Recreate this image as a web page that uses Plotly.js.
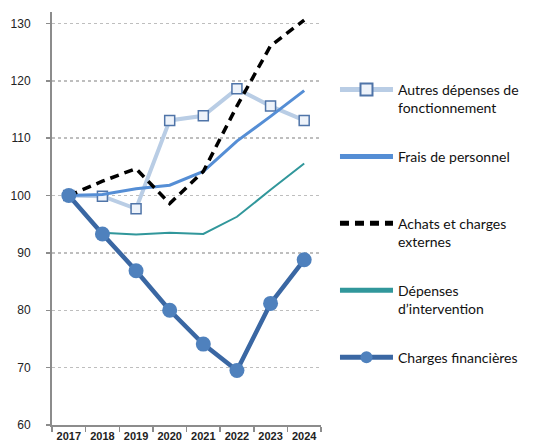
<!DOCTYPE html>
<html>
<head>
<meta charset="utf-8">
<script src="https://cdn.plot.ly/plotly-3.0.1.min.js"></script>
<style>html,body{margin:0;padding:0;background:#fff;}#chart{width:536px;height:448px;}</style>
</head>
<body>
<div id="chart"></div>
<script>
const years = ['2017','2018','2019','2020','2021','2022','2023','2024'];
const autres = [100, 99.9, 97.7, 113.1, 113.9, 118.6, 115.6, 113.1];
const frais = [100, 100.2, 101.2, 101.8, 104.2, 109.5, 113.8, 118.3];
const achats = [100, 102.5, 104.7, 98.6, 104.2, 115.6, 126.1, 130.6];
const depenses = [100, 93.5, 93.2, 93.5, 93.3, 96.3, 101.0, 105.6];
const charges = [100, 93.3, 86.9, 80.0, 74.1, 69.5, 81.2, 88.8];
const names = ['Autres dépenses de<br>fonctionnement', 'Frais de personnel<br>\u00a0', 'Achats et charges<br>externes', 'Dépenses<br>d\u2019intervention', 'Charges financières<br>\u00a0'];

const traces = [
  {x: years, y: autres, name: names[0], mode: 'lines+markers', legendgroup: 'a',
   line: {color: '#B9CDE5', width: 4},
   marker: {symbol: 'square', size: 10, color: '#EEF3FA', line: {color: '#4F74A8', width: 1.5}}},
  {x: years, y: frais, name: names[1], mode: 'lines', legendgroup: 'b',
   line: {color: '#558ED5', width: 3}},
  {x: years, y: achats, name: names[2], mode: 'lines', legendgroup: 'c',
   line: {color: '#000000', width: 3.5, dash: '9px,6px'}},
  {x: years, y: depenses, name: names[3], mode: 'lines', legendgroup: 'd',
   line: {color: '#31979B', width: 2}},
  {x: years, y: charges, name: names[4], mode: 'lines+markers', legendgroup: 'e',
   line: {color: '#3A67A3', width: 4.5},
   marker: {symbol: 'circle', size: 15, color: '#4F81BD'}}
];

const layout = {
  width: 536, height: 448,
  margin: {l: 52, r: 209, t: 12, b: 23},
  paper_bgcolor: '#fff', plot_bgcolor: '#fff',
  font: {family: 'Liberation Sans, Arial, sans-serif', color: '#222'},
  showlegend: true,
  legend: {
    x: 1.052, xanchor: 'left', y: 0.85, yanchor: 'top',
    traceorder: 'grouped', tracegroupgap: 27.5, valign: 'top', itemwidth: 53,
    font: {family: 'Lato, sans-serif', size: 14, color: '#111'},
    itemsizing: 'constant', bgcolor: 'rgba(0,0,0,0)'
  },
  xaxis: {
    type: 'category', range: [-0.5, 7.5], fixedrange: true, tickangle: 0,
    showline: true, linecolor: '#8C8C8C', linewidth: 2,
    ticks: 'outside', tickson: 'boundaries', ticklen: 5, tickcolor: '#8C8C8C', tickwidth: 1.5,
    showgrid: false,
    tickfont: {family: 'Liberation Sans, Arial, sans-serif', size: 11, color: '#222', weight: 'bold'}
  },
  yaxis: {
    range: [60, 132], tickvals: [60,70,80,90,100,110,120,130], fixedrange: true,
    showline: true, linecolor: '#8C8C8C', linewidth: 2,
    ticks: 'outside', ticklen: 4, tickcolor: '#8C8C8C', tickwidth: 1.5,
    ticklabelstandoff: 13,
    showgrid: true, gridcolor: '#BEBEBE', griddash: 'dot', gridwidth: 1.5,
    zeroline: false,
    tickfont: {family: 'Liberation Sans, Arial, sans-serif', size: 12, color: '#222'}
  }
};

Plotly.newPlot('chart', traces, layout, {displayModeBar: false, staticPlot: true});
</script>
</body>
</html>
